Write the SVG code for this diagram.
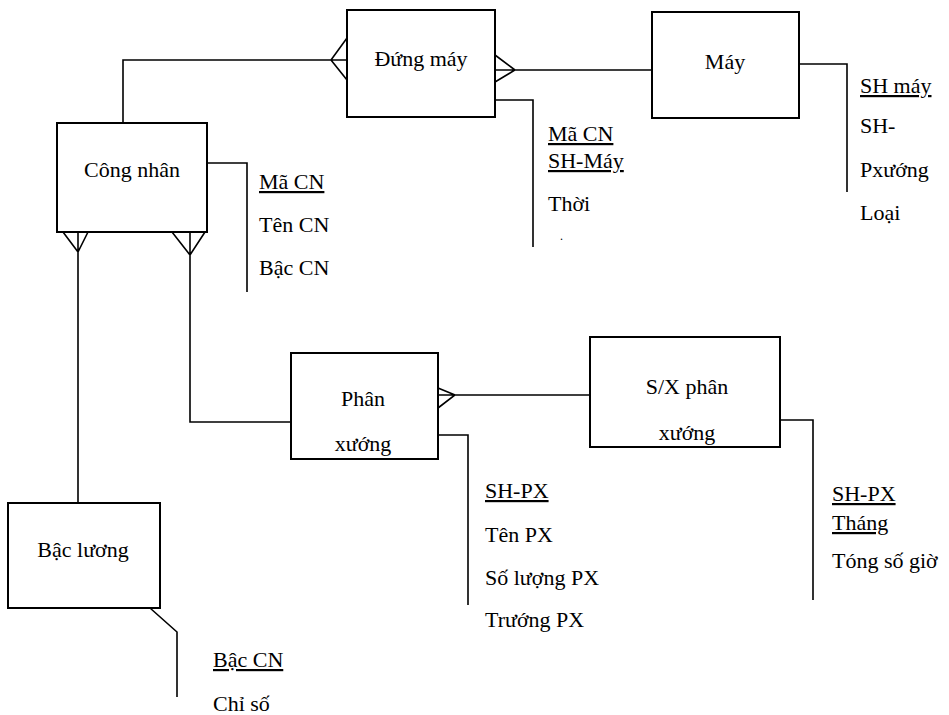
<svg xmlns="http://www.w3.org/2000/svg" width="949" height="715" viewBox="0 0 949 715">
<style>
.box{fill:#fff;stroke:#000;stroke-width:2}
.ln{fill:none;stroke:#000;stroke-width:1.6}
text{font-family:"Liberation Serif","Times New Roman",serif;font-size:22px;fill:#000}
.c{text-anchor:middle}
.u{text-decoration:underline}
</style>
<rect width="949" height="715" fill="#fff"/>
<g id="connectors">
<path class="ln" d="M123,123 V60 H347 M331,60 L347,38 M331,60 L347,80"/>
<path class="ln" d="M495,55 L515,70 L495,82 M495,70 H652"/>
<path class="ln" d="M495,100 H533 V247"/>
<path class="ln" d="M799,64 H847 V192"/>
<path class="ln" d="M207,163 H247 V292"/>
<path class="ln" d="M63,232 L78,252 L88,232 M78,232 V503"/>
<path class="ln" d="M172,232 L190,255 L205,232 M190,232 V422 H291"/>
<path class="ln" d="M438,388 L455,395 L438,408 M438,395 H590"/>
<path class="ln" d="M438,435 H468 V605"/>
<path class="ln" d="M780,420 H813 V600"/>
<path class="ln" d="M150,608 L177,632 V697"/>
</g>
<g id="dung-may"><rect class="box" x="347" y="10" width="148" height="107"/><text class="c" x="421" y="66">Đứng máy</text></g>
<g id="may"><rect class="box" x="652" y="12" width="147" height="106"/><text class="c" x="725" y="69">Máy</text></g>
<g id="cong-nhan"><rect class="box" x="57" y="123" width="150" height="109"/><text class="c" x="132" y="177">Công nhân</text></g>
<g id="phan-xuong"><rect class="box" x="291" y="353" width="147" height="106"/><text class="c" x="363" y="406">Phân</text><text class="c" x="363" y="451">xướng</text></g>
<g id="sx-phan-xuong"><rect class="box" x="590" y="337" width="190" height="110"/><text class="c" x="687" y="394">S/X phân</text><text class="c" x="687" y="440">xướng</text></g>
<g id="bac-luong"><rect class="box" x="8" y="503" width="152" height="105"/><text class="c" x="83" y="557">Bậc lương</text></g>
<g id="attr-cong-nhan"><text class="u" x="259" y="189">Mã CN</text><text x="259" y="232">Tên CN</text><text x="259" y="275">Bậc CN</text></g>
<g id="attr-dung-may"><text class="u" x="548" y="141">Mã CN</text><text class="u" x="548" y="168">SH-Máy</text><text x="548" y="211">Thời</text><text x="560" y="240" style="font-size:12px">.</text></g>
<g id="attr-may"><text class="u" x="860" y="93">SH máy</text><text x="860" y="133">SH-</text><text x="860" y="177">Pxướng</text><text x="860" y="220">Loại</text></g>
<g id="attr-phan-xuong"><text class="u" x="485" y="498">SH-PX</text><text x="485" y="542">Tên PX</text><text x="485" y="585">Số lượng PX</text><text x="485" y="627">Trướng PX</text></g>
<g id="attr-sx"><text class="u" x="832" y="501">SH-PX</text><text class="u" x="832" y="530">Tháng</text><text x="832" y="568">Tóng số giờ</text></g>
<g id="attr-bac-luong"><text class="u" x="213" y="667">Bậc CN</text><text x="213" y="711">Chỉ số</text></g>
</svg>
